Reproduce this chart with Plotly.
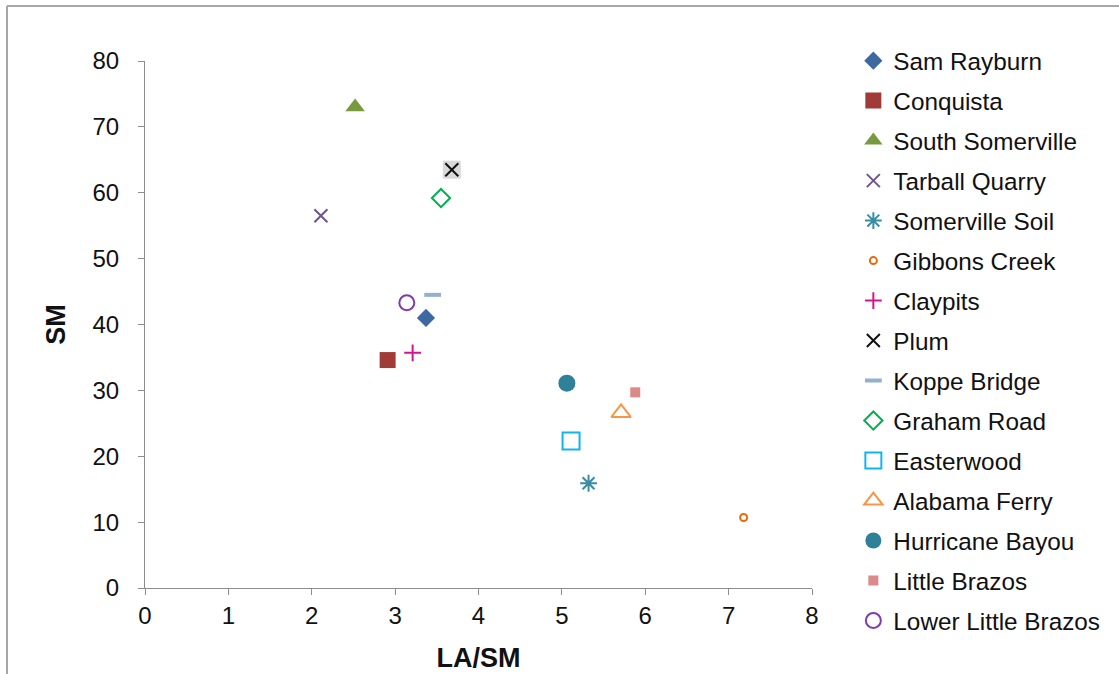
import plotly.graph_objects as go

# Site names and their measured ratios
sites = [
    "Sam Rayburn", "Conquista", "South Somerville", "Tarball Quarry",
    "Somerville Soil", "Gibbons Creek", "Claypits", "Plum", "Koppe Bridge",
    "Graham Road", "Easterwood", "Alabama Ferry", "Hurricane Bayou",
    "Little Brazos", "Lower Little Brazos",
]
la_sm = [3.37, 2.91, 2.52, 2.11, 5.32, 7.18, 3.21, 3.68, 3.45,
         3.55, 5.11, 5.71, 5.06, 5.88, 3.14]
sm = [41.0, 34.6, 73.0, 56.5, 15.9, 10.7, 35.7, 63.5, 44.5,
      59.2, 22.3, 26.6, 31.1, 29.7, 43.3]

# Marker style per site: (symbol, size, fill colour, outline colour, outline width)
styles = [
    ("diamond", 14, "#3E68A0", "#3E68A0", 0),
    ("square", 16, "#A03B38", "#A03B38", 0),
    ("triangle-up", 17, "#789A3E", "#789A3E", 0),
    ("x-thin", 13, "#6E5490", "#6E5490", 2),
    ("asterisk", 14, "#3A8CA4", "#3A8CA4", 2),
    ("circle-open", 7, "#E46C0A", "#E46C0A", 2),
    ("cross-thin", 12, "#D4148F", "#D4148F", 2),
    ("x-thin", 13, "#111111", "#111111", 2),
    ("line-ew", 12, "#94B0D0", "#94B0D0", 4),
    ("diamond-open", 14, "#00B050", "#00B050", 2),
    ("square-open", 17, "#12B4EE", "#12B4EE", 2),
    ("triangle-up-open", 17, "#F79646", "#F79646", 2),
    ("circle", 17, "#2F819A", "#2F819A", 0),
    ("square", 10, "#D98A89", "#D98A89", 0),
    ("circle-open", 15, "#7D3BB0", "#7D3BB0", 2),
]

fig = go.Figure()
for name, x, y, (sym, size, fill, edge, lw) in zip(sites, la_sm, sm, styles):
    if name == "Plum":
        # grey backing square behind the Plum cross
        fig.add_trace(go.Scatter(
            x=[x], y=[y], mode="markers", legendgroup=name, showlegend=False,
            hoverinfo="skip",
            marker=dict(symbol="square", size=18, color="#D9D9D9",
                        line=dict(width=0)),
        ))
    fig.add_trace(go.Scatter(
        x=[x], y=[y], mode="markers", name=name, legendgroup=name,
        marker=dict(symbol=sym, size=size, color=fill,
                    line=dict(color=edge, width=lw)),
    ))

axis_col = "#8C8C8C"
font_family = "Liberation Sans, Arial, sans-serif"

fig.update_layout(
    width=1119, height=674,
    margin=dict(l=145, r=307, t=61, b=86),
    paper_bgcolor="white", plot_bgcolor="white",
    font=dict(family=font_family, size=24, color="#111111"),
    showlegend=True,
    legend=dict(
        x=1.062, y=1.043, xanchor="left", yanchor="top",
        font=dict(size=24.3, color="#111111"),
        tracegroupgap=5.4, itemsizing="trace", maxheight=640,
        bgcolor="rgba(0,0,0,0)",
    ),
    xaxis=dict(
        range=[0, 8], dtick=1, showgrid=False, zeroline=False,
        showline=True, linecolor=axis_col, linewidth=1,
        ticks="outside", ticklen=6, tickcolor=axis_col,
        tickfont=dict(size=24), automargin=False,
        title=dict(text="<b>LA/SM</b>", font=dict(size=27), standoff=20),
    ),
    yaxis=dict(
        range=[0, 80], dtick=10, showgrid=False, zeroline=False,
        showline=True, linecolor=axis_col, linewidth=1,
        ticks="outside", ticklen=6, tickcolor=axis_col,
        tickfont=dict(size=24), ticklabelstandoff=14, automargin=False,
        title=dict(text="<b>SM</b>", font=dict(size=27), standoff=19),
    ),
)

# Outer chart frame (left and top edges)
frame_col = "#A6A6A6"
x_left = (7 - 145) / 667
y_top = 1 + (61 - 6) / 527
y_bot = 1 + (61 - 680) / 527
x_right = 1 + (1125 - 812) / 667
fig.add_shape(type="line", xref="paper", yref="paper",
              x0=x_left, x1=x_left, y0=y_bot, y1=y_top,
              line=dict(color=frame_col, width=2))
fig.add_shape(type="line", xref="paper", yref="paper",
              x0=x_left, x1=x_right, y0=y_top, y1=y_top,
              line=dict(color=frame_col, width=2))

fig.write_html("out.html")
